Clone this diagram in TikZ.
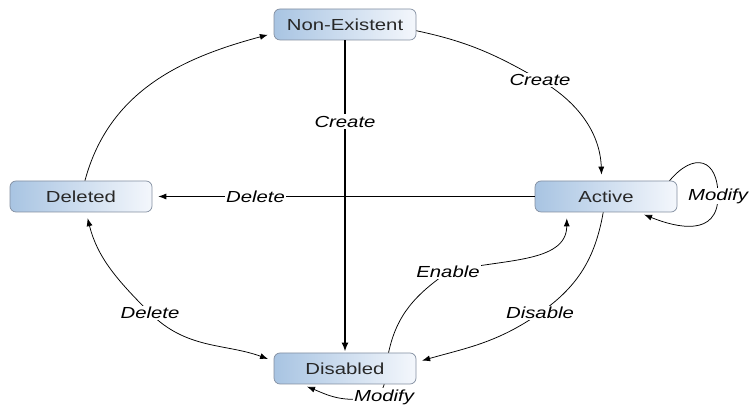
\documentclass[tikz,border=0pt]{standalone}
\usepackage{fontspec}
\setmainfont{Liberation Sans}[FakeStretch=1.27]
\usetikzlibrary{arrows.meta}
\definecolor{boxleft}{RGB}{168,196,226}
\definecolor{boxright}{RGB}{244,247,252}
\definecolor{boxline}{RGB}{130,142,160}
\definecolor{boxtext}{RGB}{40,40,40}
\begin{document}
\begin{tikzpicture}[x=1pt,y=1pt,
  state/.style={draw=boxline, line width=0.7pt, rounded corners=6pt, left color=boxleft, right color=boxright,
    minimum width=142pt, minimum height=31pt, inner sep=0pt, text=boxtext, font=\fontsize{16}{19}\selectfont},
  lab/.style={fill=white, inner sep=1.5pt, font=\fontsize{16}{19}\selectfont\itshape},
  arr/.style={line width=0.75pt, -{Latex[length=8pt,width=6pt]}, shorten >=6pt},
  arrb/.style={line width=0.75pt, {Latex[length=8pt,width=6pt]}-{Latex[length=8pt,width=6pt]}, shorten >=6pt, shorten <=6pt},
  thickarr/.style={line width=1.8pt, -{Latex[length=9pt,width=7pt]}, shorten >=1pt}]
\useasboundingbox (0,0) rectangle (749,406);
\node[state] (ne) at (345,381.5) {Non-Existent};
\node[state] (act) at (606,209.5) {Active};
\node[state] (del) at (81,209.5) {Deleted};
\node[state] (dis) at (345,37.5) {Disabled};
\coordinate (pc1) at (540,326);
\coordinate (pdis) at (540,93);
\coordinate (pen) at (448,134);
\coordinate (pdel2) at (150,93);
\coordinate (pm1) at (718,210);
\coordinate (pm2) at (362,7);
% Create (Non-Existent -> Active)
\draw[arr] (ne.-5) to[out=-12,in=150] (pc1) to[out=-30,in=92] (act.105);
% Create (Non-Existent -> Disabled)
\draw[thickarr] (ne.south) -- node[lab,pos=0.26]{Create} (dis.north);
% Delete (Active -> Deleted)
\draw[arr] (act.west) -- node[lab,pos=0.73]{Delete} (del.east);
% Disable
\draw[arr] (act.-100) to[out=-100,in=35] (pdis) to[out=-145,in=16] (dis.5);
% Enable
\draw[arr] (dis.20) to[out=78,in=-145] (pen) to[out=15,in=-90] (act.-158);
% Deleted -> Non-Existent
\draw[arr] (del.76) to[out=75,in=195] (ne.187);
% Delete (Disabled <-> Deleted)
\draw[arrb] (del.-72) to[out=-76,in=135] (pdel2) to[out=-45,in=160] (dis.174);
% Modify loops
\draw[arr] (act.14) to[out=50,in=90,looseness=1.9] (pm1) to[out=-90,in=-22,looseness=1.3] (act.-26);
\draw[arr] (dis.-22) to[out=-105,in=5] (pm2) to[out=185,in=-22] (dis.-160);
\node[lab] at (pc1) {Create};
\node[lab] at (pdis) {Disable};
\node[lab] at (pen) {Enable};
\node[lab] at (pdel2) {Delete};
\node[lab, inner sep=0.5pt] at (pm1) {Modify};
\node[lab] at (384,9) {Modify};
\end{tikzpicture}
\end{document}
